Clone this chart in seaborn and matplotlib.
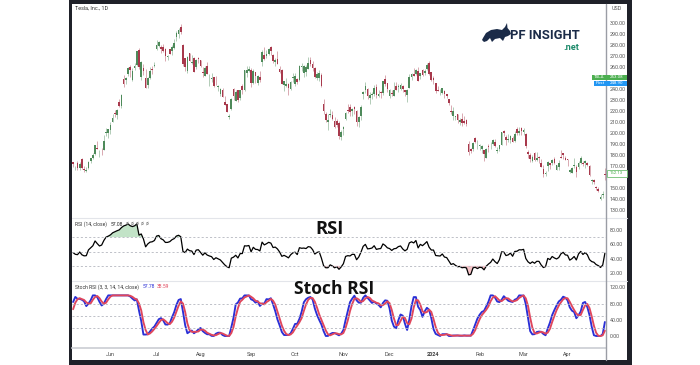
import numpy as np
import pandas as pd
import matplotlib
matplotlib.use("Agg")
import matplotlib.pyplot as plt
import seaborn as sns
from matplotlib.patches import Rectangle, Polygon
from matplotlib.lines import Line2D

# ---------------- data (TSLA daily) ----------------
# closes before the visible window (used only to warm up the RSI / Stoch RSI)
warmup_close = [
    214.24, 202.04, 208.31, 197.37, 200.86, 202.07, 196.88, 207.63, 205.71,
    202.77, 190.90, 197.79, 193.81, 187.71, 182.00, 172.92, 173.44, 174.48, 183.26, 180.45, 184.13,
    180.13, 183.25, 197.58, 191.15, 192.22, 190.41, 191.81, 189.19, 193.88, 195.28, 207.46,
    194.77, 192.58, 185.52, 185.06, 184.51, 186.79, 180.54, 185.90, 185.00, 187.04, 184.31, 180.59,
    162.99, 165.08, 162.55, 160.67, 153.75, 160.19, 164.31,
    161.83, 160.31, 160.61, 161.20, 170.06,
]

open_ = [
    173.72, 168.95, 172.55, 168.70, 176.07, 167.66, 165.65, 168.41, 174.22, 177.17, 180.70, 186.20, 182.56, 184.89, 184.62, 200.10, 199.78,
    202.59, 210.15, 217.80, 216.14, 228.00, 224.22, 249.07, 247.94, 253.51, 260.17, 248.40, 258.92, 261.50, 275.13, 250.77, 259.29, 250.07, 243.24, 249.70, 258.03, 260.60,
    276.49, 278.82, 278.09, 278.43, 276.47, 268.65, 276.33, 274.59, 277.01, 286.63, 290.15, 296.04, 279.56, 268.00, 255.85, 272.38, 263.66, 268.31, 259.86, 267.48,
    266.26, 255.57, 252.04, 260.97, 251.45, 248.84, 250.87, 245.40, 241.77, 235.70, 238.73, 228.02, 226.06, 214.12, 221.55, 240.25, 229.34, 238.66, 231.31, 242.58, 238.58, 254.20, 255.98,
    257.26, 245.00, 255.14, 245.07, 251.22, 264.27, 270.76, 270.07, 271.32, 277.55, 271.16, 264.35, 267.04, 257.85, 257.40, 243.38, 242.98, 244.26, 240.02, 250.00,
    244.81, 248.61, 248.14, 260.00, 253.98, 255.31, 257.75, 266.20, 262.92, 258.90, 250.05, 250.10, 252.70, 225.95, 217.01, 210.00, 216.50, 215.88, 211.32, 210.60, 209.28, 196.12,
    204.04, 212.97, 221.15, 223.98, 219.98, 223.15, 219.75, 210.03, 215.60, 235.03, 239.29, 239.49, 232.00, 234.04, 235.04, 242.04, 233.75, 236.89, 236.68, 249.21, 245.14,
    233.14, 235.75, 233.87, 242.92, 241.55, 240.27, 242.74, 238.55, 234.19, 241.22, 251.21, 253.78, 253.48, 256.41, 251.90, 256.76, 254.49, 258.35, 263.66, 255.10,
    250.08, 244.98, 239.25, 236.86, 236.14, 238.11, 235.10, 230.57, 220.08, 215.10, 214.86, 216.88, 209.99, 212.26, 211.30, 211.88, 189.70, 185.50, 185.63, 195.33, 187.00,
    188.50, 185.04, 184.26, 177.21, 188.18, 189.00, 190.18, 192.11, 183.99, 185.30, 189.16, 202.06, 196.13, 193.36, 194.00, 195.31, 192.29, 204.04, 200.42, 204.18,
    200.52, 198.73, 183.05, 179.99, 174.35, 181.50, 175.45, 177.77, 173.05, 167.77, 163.16, 170.02, 172.36, 173.00, 176.39, 166.69, 168.76, 178.58, 181.41, 177.45,
    176.17, 164.75, 164.02, 170.07, 169.08, 169.34, 172.91, 173.04, 172.55, 172.34, 170.24, 156.74, 157.64, 151.25, 148.97, 140.56, 143.33, 162.84,
]
high = [
    173.80, 169.82, 174.43, 173.57, 177.38, 169.76, 169.52, 174.50, 177.06, 181.95, 189.32, 192.96, 184.22, 186.00, 198.60, 204.48, 203.95,
    209.80, 217.25, 221.29, 221.91, 230.83, 235.23, 252.42, 250.97, 259.68, 261.57, 258.95, 263.60, 274.75, 276.99, 265.00, 262.45, 258.37, 250.39, 259.88, 260.74, 264.45,
    284.25, 283.85, 279.97, 280.78, 277.52, 270.90, 276.52, 279.45, 285.30, 292.23, 295.26, 299.29, 280.93, 268.00, 269.85, 272.90, 271.00, 269.13, 267.25, 269.08,
    266.47, 259.52, 260.49, 264.77, 253.65, 254.70, 251.10, 251.80, 243.79, 240.66, 240.50, 233.97, 226.74, 217.58, 232.13, 240.82, 238.98, 238.92, 239.00, 244.38, 257.48, 260.51, 261.18,
    259.08, 258.00, 255.39, 252.81, 256.52, 274.85, 278.39, 274.98, 276.71, 278.98, 271.44, 267.85, 273.93, 260.86, 257.79, 247.10, 249.55, 245.33, 247.55, 254.77,
    254.28, 250.02, 261.86, 263.60, 261.65, 261.36, 268.94, 268.60, 265.41, 259.60, 255.40, 257.18, 254.63, 230.61, 218.86, 216.98, 222.05, 220.10, 214.80, 212.41, 210.88, 202.80,
    205.99, 219.20, 226.37, 226.32, 223.12, 224.15, 220.80, 215.38, 225.40, 238.14, 246.70, 240.88, 237.39, 237.10, 243.62, 244.01, 238.75, 238.33, 247.00, 252.75, 245.22,
    240.19, 239.37, 246.66, 246.57, 244.08, 245.27, 243.44, 238.99, 240.30, 253.88, 254.13, 258.74, 258.34, 259.84, 254.80, 258.22, 257.97, 263.34, 265.13, 255.19,
    251.25, 245.68, 242.70, 240.12, 241.25, 238.96, 235.50, 230.93, 225.34, 223.49, 215.67, 217.45, 213.19, 217.80, 215.65, 212.73, 193.00, 186.78, 191.48, 196.36, 193.97,
    189.88, 188.69, 184.68, 186.49, 189.79, 191.62, 194.12, 194.73, 187.26, 188.89, 200.88, 203.17, 198.60, 199.44, 198.32, 197.57, 201.78, 205.60, 205.30, 205.28,
    204.52, 199.75, 184.59, 181.58, 180.04, 182.73, 182.87, 179.43, 176.05, 171.17, 165.18, 174.72, 172.82, 176.25, 178.18, 171.20, 175.24, 184.25, 181.91, 179.57,
    176.75, 167.69, 168.82, 177.19, 170.86, 174.50, 179.22, 174.93, 175.88, 173.81, 170.69, 158.19, 158.33, 152.20, 150.94, 144.44, 147.26, 167.97,
]
low = [
    169.19, 166.56, 166.68, 166.79, 167.23, 164.55, 164.35, 167.19, 172.45, 176.31, 180.11, 185.26, 178.22, 180.00, 184.53, 197.53, 195.12,
    199.37, 209.75, 214.52, 212.53, 223.20, 223.01, 242.02, 244.59, 251.34, 250.50, 247.29, 257.21, 261.12, 257.78, 248.25, 252.80, 240.70, 240.85, 248.89, 253.61, 259.89,
    275.11, 277.60, 272.88, 273.77, 265.10, 266.37, 271.46, 270.60, 276.31, 283.57, 286.01, 289.52, 261.20, 255.80, 254.12, 265.00, 262.60, 255.30, 258.23, 263.78,
    260.25, 250.49, 252.00, 253.11, 242.76, 246.13, 241.90, 243.13, 238.02, 233.75, 232.61, 225.38, 218.83, 212.36, 220.58, 229.55, 229.29, 228.18, 230.35, 235.35, 237.77, 250.59, 255.05,
    242.01, 244.86, 245.06, 243.27, 246.67, 260.61, 266.60, 268.10, 270.42, 271.00, 263.76, 260.86, 262.46, 254.21, 244.48, 238.31, 241.66, 234.58, 238.65, 246.35,
    242.62, 244.45, 247.60, 256.25, 250.65, 252.05, 257.65, 260.90, 256.63, 250.22, 248.48, 247.08, 242.08, 216.78, 210.42, 202.51, 214.11, 212.20, 204.88, 205.77, 194.67, 194.07,
    197.85, 211.45, 218.40, 215.00, 215.72, 217.64, 206.68, 205.69, 211.61, 230.72, 236.45, 230.96, 226.54, 231.02, 233.34, 231.40, 232.33, 232.10, 234.01, 242.76, 236.91,
    231.90, 233.29, 233.70, 239.17, 236.98, 239.27, 237.45, 233.87, 228.20, 240.79, 248.30, 251.36, 253.01, 247.00, 248.55, 251.37, 252.91, 257.52, 252.71, 247.43,
    244.41, 236.32, 237.73, 234.90, 235.30, 232.04, 231.29, 225.37, 217.15, 212.18, 212.01, 208.74, 207.56, 206.27, 207.75, 206.77, 180.06, 182.10, 183.67, 190.61, 185.85,
    184.28, 182.00, 175.01, 177.11, 182.68, 185.58, 189.48, 187.28, 182.11, 183.35, 188.86, 197.40, 189.13, 191.95, 191.36, 191.50, 192.00, 198.26, 198.44, 198.45,
    198.50, 186.72, 177.57, 173.70, 173.70, 174.70, 174.80, 172.41, 169.15, 160.51, 160.76, 165.90, 167.42, 170.82, 171.80, 166.30, 166.65, 177.38, 176.00, 175.30,
    170.21, 163.43, 163.28, 168.01, 160.51, 167.79, 171.92, 170.01, 168.51, 170.36, 161.38, 153.75, 153.78, 148.70, 146.22, 138.80, 141.11, 157.51,
]
close = [
    171.79, 169.15, 168.54, 172.08, 167.98, 166.35, 166.52, 173.86, 176.89, 180.14, 188.87, 185.77, 182.90, 184.47, 193.17, 201.16, 203.93,
    207.52, 213.97, 217.61, 221.31, 224.57, 234.86, 244.40, 249.83, 258.71, 256.79, 255.90, 260.54, 274.45, 259.46, 264.61, 256.60, 241.05, 250.21, 256.24, 257.50, 261.77,
    279.82, 282.48, 276.54, 274.43, 269.61, 269.79, 271.99, 277.90, 281.38, 290.38, 293.34, 291.26, 262.90, 260.02, 269.06, 265.28, 264.35, 255.71, 266.44, 267.43,
    261.07, 254.11, 259.32, 253.86, 251.45, 249.70, 242.19, 245.34, 242.65, 239.76, 232.96, 225.60, 219.22, 215.49, 231.28, 233.19, 236.86, 230.04, 238.59, 238.82, 257.18, 256.90, 258.08,
    245.01, 256.49, 251.92, 251.49, 248.50, 273.58, 267.48, 271.30, 276.04, 274.39, 265.28, 266.50, 262.59, 255.70, 244.88, 246.99, 244.12, 240.50, 246.38, 250.22,
    251.60, 246.53, 261.16, 260.05, 260.53, 259.67, 263.62, 262.99, 258.87, 251.12, 253.92, 254.85, 242.68, 220.11, 211.99, 212.08, 216.52, 212.42, 205.76, 207.30, 197.36, 200.84,
    205.66, 218.51, 219.96, 219.27, 222.18, 222.11, 209.98, 214.65, 223.71, 237.41, 242.84, 233.59, 234.30, 235.60, 241.20, 234.21, 235.45, 236.08, 246.72, 244.14, 240.08,
    238.83, 235.58, 238.72, 239.37, 242.64, 243.84, 239.74, 237.01, 239.29, 251.05, 253.50, 252.08, 257.22, 247.14, 254.50, 252.54, 256.61, 261.44, 253.18, 248.48,
    248.42, 238.45, 237.93, 237.49, 240.45, 234.96, 233.94, 227.22, 218.89, 219.91, 215.55, 211.88, 212.19, 208.80, 209.14, 207.83, 182.63, 183.25, 190.93, 191.59, 187.29,
    188.86, 187.91, 181.06, 185.10, 187.58, 189.56, 193.57, 188.13, 184.02, 188.71, 200.45, 199.95, 193.76, 194.77, 197.41, 191.97, 199.40, 199.73, 202.04, 201.88,
    202.64, 188.14, 180.74, 176.54, 178.65, 175.34, 177.77, 177.54, 169.48, 162.50, 163.57, 173.80, 171.32, 175.66, 172.82, 170.83, 172.63, 177.67, 179.83, 175.79,
    175.22, 166.63, 168.38, 171.11, 164.90, 172.98, 176.88, 171.76, 174.60, 171.05, 161.48, 157.11, 155.45, 149.93, 147.05, 142.05, 144.68, 162.13,
]

holidays = ["2023-05-29", "2023-06-19", "2023-07-04", "2023-09-04", "2023-11-23",
            "2023-12-25", "2024-01-01", "2024-01-15", "2024-02-19", "2024-03-29"]
dates = pd.bdate_range("2023-05-08", "2024-04-24", freq="C", holidays=holidays)

month_labels = ["Jun", "Jul", "Aug", "Sep", "Oct", "Nov", "Dec", "2024", "Feb", "Mar", "Apr"]
price_ticks = [300, 290, 280, 270, 260, 240, 230, 220, 210, 200, 190, 180, 170, 150, 140, 130]
rsi_ticks = [80, 60, 40, 20]
stoch_ticks = [120, 80, 40, 0]
rsi_label_value = "57.08"
stoch_label_values = ["57.78", "38.59"]
tag_values = ["253.08", "248.90", "162.13"]

# ---------------- indicators: RSI(14) and Stoch RSI(3,3,14,14) ----------------
allc = np.array(warmup_close + close, dtype=float)
d = np.diff(allc)
gain = np.where(d > 0, d, 0.0)
loss = np.where(d < 0, -d, 0.0)
n = 14
ag = np.full(len(allc), np.nan)
al = np.full(len(allc), np.nan)
ag[n] = gain[:n].mean()
al[n] = loss[:n].mean()
for i in range(n + 1, len(allc)):
    ag[i] = (ag[i - 1] * (n - 1) + gain[i - 1]) / n
    al[i] = (al[i - 1] * (n - 1) + loss[i - 1]) / n
rsi_all = pd.Series(100 - 100 / (1 + ag / al))
lo = rsi_all.rolling(14).min()
hi = rsi_all.rolling(14).max()
stoch = (rsi_all - lo) / (hi - lo) * 100
k_all = stoch.rolling(3).mean()
d_all = k_all.rolling(3).mean()

N = len(close)
df = pd.DataFrame({
    "idx": np.arange(N),
    "date": dates[:N],
    "open": open_, "high": high, "low": low, "close": close,
    "rsi": rsi_all.values[-N:],
    "k": k_all.values[-N:],
    "d": d_all.values[-N:],
})

# ---------------- figure ----------------
W, H = 700, 365
sns.set_theme(style="white")
plt.rcParams["font.family"] = ["Roboto", "DejaVu Sans"]

fig = plt.figure(figsize=(7, 3.65), dpi=100)
fig.patch.set_facecolor("white")


def frac(x0, y0, x1, y1):
    return [x0 / W, 1 - y1 / H, (x1 - x0) / W, (y1 - y0) / H]


def fx(x):
    return x / W


def fy(y):
    return 1 - y / H


# dark frame and inner white panel
fig.add_artist(Rectangle((fx(69), 0), fx(632) - fx(69), 1, transform=fig.transFigure,
                         facecolor="#1f2129", edgecolor="none", zorder=-3))
fig.add_artist(Rectangle((fx(72), fy(360)), fx(627) - fx(72), fy(4) - fy(360),
                         transform=fig.transFigure, facecolor="white", edgecolor="none", zorder=-2))

ax = fig.add_axes(frac(72, 4, 606, 218))
ax_r = fig.add_axes(frac(72, 218, 606, 280))
ax_s = fig.add_axes(frac(72, 280, 606, 348))

up_col, dn_col = "#4e8a5a", "#a8394c"
cols = np.where(df["close"] >= df["open"], up_col, dn_col)
ax.vlines(df["idx"], df["low"], df["high"], colors=cols, lw=0.55, alpha=0.55)
body_lo = np.minimum(df["open"], df["close"])
body_h = np.maximum(np.abs(df["close"] - df["open"]), 0.4)
ax.bar(df["idx"], body_h, bottom=body_lo, width=0.75, color=cols, edgecolor="none")

# RSI
sns.lineplot(data=df, x="idx", y="rsi", ax=ax_r, color="black", lw=0.9)
r = df["rsi"].values
ax_r.fill_between(df["idx"], r, 70, where=r > 70, interpolate=True, color="#a8d8b0", alpha=0.7, lw=0)
ax_r.fill_between(df["idx"], r, 30, where=r < 30, interpolate=True, color="#f4b6bb", alpha=0.8, lw=0)
for v in (70, 50, 30):
    ax_r.axhline(v, color="#b4b7bf", lw=0.6, ls=(0, (2.5, 2.5)))

# Stoch RSI
sns.lineplot(data=df, x="idx", y="k", ax=ax_s, color="#2a2fd6", lw=1.35)
sns.lineplot(data=df, x="idx", y="d", ax=ax_s, color="#e0465c", lw=1.35)
for v in (80, 50, 20):
    ax_s.axhline(v, color="#b4b7bf", lw=0.6, ls=(0, (2.5, 2.5)))

for a in (ax, ax_r, ax_s):
    a.set_xlim(-0.5, N - 0.5)
    a.set_facecolor("none")
    for s in a.spines.values():
        s.set_visible(False)
    a.set_xlabel("")
    a.set_ylabel("")
    a.tick_params(axis="y", which="both", left=False, right=False, labelleft=False,
                  labelright=True, length=0, pad=2.5, labelsize=3.9, labelcolor="#555555")
    a.grid(False)

ax.set_ylim(122.9, 317.0)
ax.set_yticks(price_ticks)
ax.set_yticklabels([f"{v:.2f}" for v in price_ticks])
ax_r.set_ylim(10.3, 96.7)
ax_r.set_yticks(rsi_ticks)
ax_r.set_yticklabels([f"{v:.2f}" for v in rsi_ticks])
ax_s.set_ylim(-29.6, 137.9)
ax_s.set_yticks(stoch_ticks)
ax_s.set_yticklabels([f"{v:.2f}" for v in stoch_ticks])

ax.set_xticks([])
ax_r.set_xticks([])
mon = df["date"].dt.month.values
starts = [i for i in range(1, N) if mon[i] != mon[i - 1]]
ax_s.set_xticks(starts)
ax_s.set_xticklabels(month_labels)
ax_s.tick_params(axis="x", length=0, pad=3.2, labelsize=4.0, labelcolor="#444444")
for t in ax_s.get_xticklabels():
    if t.get_text() == "2024":
        t.set_fontweight("bold")

# separators
fig.add_artist(Line2D([fx(606), fx(606)], [fy(4), fy(360)], color="#9a9da5", lw=1.0, zorder=5))
fig.add_artist(Line2D([fx(72), fx(627)], [fy(218), fy(218)], color="#e3e5ea", lw=0.8))
fig.add_artist(Line2D([fx(72), fx(627)], [fy(280.5), fy(280.5)], color="#e3e5ea", lw=0.8))
fig.add_artist(Line2D([fx(72), fx(606)], [fy(348), fy(348)], color="#d2d4d9", lw=1.4))

# small texts
fig.text(fx(75), fy(8), "Tesla, Inc., 1D", fontsize=3.9, color="#333333", va="center")
fig.text(fx(617), fy(8), "USD", fontsize=3.9, color="#555555", va="center", ha="center")
fig.text(fx(75), fy(224), "RSI (14, close)", fontsize=3.6, color="#333333", va="center")
fig.text(fx(111), fy(224), rsi_label_value, fontsize=3.6, color="#222222", va="center")
fig.text(fx(126), fy(224), "ø  ø  ø  ø  ø", fontsize=3.4, color="#666666", va="center")
fig.text(fx(75), fy(287), "Stoch RSI (3, 3, 14, 14, close)", fontsize=3.6, color="#333333", va="center")
fig.text(fx(143), fy(287), stoch_label_values[0], fontsize=3.6, color="#2a2fd6", va="center")
fig.text(fx(157), fy(287), stoch_label_values[1], fontsize=3.6, color="#e0465c", va="center")

# big overlay labels
fig.text(fx(330), fy(229), "RSI", fontsize=13.2, weight="bold", color="#111111",
         ha="center", va="center", family=["Open Sans", "DejaVu Sans"])
fig.text(fx(334), fy(289), "Stoch RSI", fontsize=12.6, weight="bold", color="#111111",
         ha="center", va="center", family=["Open Sans", "DejaVu Sans"])

# price labels on the axis
fig.add_artist(Rectangle((fx(592), fy(80)), fx(627) - fx(592), fy(74.5) - fy(80),
                         transform=fig.transFigure, facecolor="#4caf50", edgecolor="none", zorder=6))
fig.text(fx(599), fy(77.3), "TSLA", fontsize=3.2, color="white", ha="center", va="center", zorder=7)
fig.text(fx(616.5), fy(77.3), tag_values[0], fontsize=3.2, color="white", ha="center", va="center", zorder=7)
fig.add_artist(Rectangle((fx(594), fy(86)), fx(627) - fx(594), fy(80.5) - fy(86),
                         transform=fig.transFigure, facecolor="#2196f3", edgecolor="none", zorder=6))
fig.text(fx(600), fy(83.3), "Post", fontsize=3.2, color="white", ha="center", va="center", zorder=7)
fig.text(fx(616.5), fy(83.3), tag_values[1], fontsize=3.2, color="white", ha="center", va="center", zorder=7)
fig.add_artist(Rectangle((fx(607), fy(176.5)), fx(626.5) - fx(607), fy(170) - fy(176.5),
                         transform=fig.transFigure, facecolor="white", edgecolor="#6fbf73", lw=0.6, zorder=6))
fig.text(fx(616.7), fy(173.3), tag_values[2], fontsize=3.2, color="#4caf50", ha="center", va="center", zorder=7)

# logo
bull = [(483, 38), (486, 33), (491, 30), (497, 29), (502, 30), (505, 27), (507, 23), (507.5, 28),
        (510, 31), (511, 34), (508, 36), (505, 37), (503, 41), (500, 38), (495, 39), (492, 42),
        (490, 38), (487, 41), (484, 42), (482, 40)]
fig.add_artist(Polygon([(fx(x), fy(y)) for x, y in bull], closed=True, transform=fig.transFigure,
                       facecolor="#1b2b48", edgecolor="none"))
fig.text(fx(510), fy(35.3), "PF INSIGHT", fontsize=9.4, weight="bold", color="#1b2b48",
         ha="left", va="center", family=["Roboto", "DejaVu Sans"])
fig.text(fx(571), fy(47.8), ".net", fontsize=6.6, weight="bold", color="#1c8a6a",
         ha="center", va="center", family=["Roboto", "DejaVu Sans"])

fig.savefig("out.png", dpi=100, facecolor="white")
